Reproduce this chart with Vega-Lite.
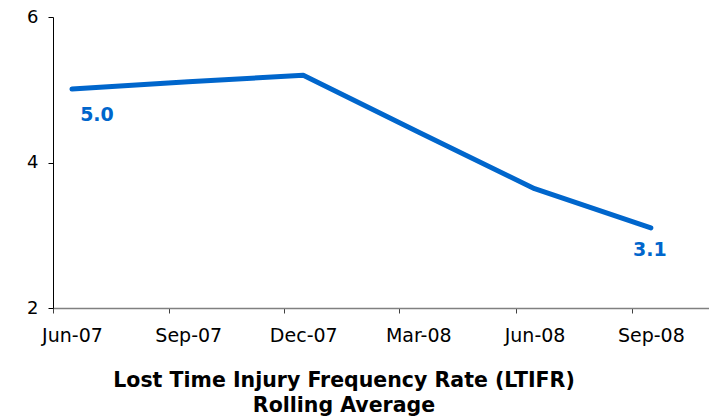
{
  "$schema": "https://vega.github.io/schema/vega-lite/v6.json",
  "autosize": "none",
  "width": 656,
  "height": 291,
  "padding": {"left": 53, "top": 17, "right": 0, "bottom": 109},
  "background": "white",
  "config": {
    "view": {"stroke": null},
    "font": "DejaVu Sans"
  },
  "title": {
    "text": ["Lost Time Injury Frequency Rate (LTIFR)", "Rolling Average"],
    "orient": "bottom",
    "anchor": "middle",
    "frame": "group",
    "dx": -37,
    "offset": 26,
    "font": "DejaVu Sans",
    "fontSize": 20.5,
    "fontWeight": "bold",
    "color": "#000000",
    "lineHeight": 25
  },
  "data": {
    "values": [
      {"date": "2007-06-01", "ltifr": 5.01, "label": "5.0"},
      {"date": "2007-09-01", "ltifr": 5.11, "label": null},
      {"date": "2007-12-01", "ltifr": 5.20, "label": null},
      {"date": "2008-03-01", "ltifr": 4.42, "label": null},
      {"date": "2008-06-01", "ltifr": 3.64, "label": null},
      {"date": "2008-09-01", "ltifr": 3.10, "label": "3.1"}
    ]
  },
  "encoding": {
    "x": {
      "field": "date",
      "type": "temporal",
      "scale": {
        "type": "utc",
        "domain": [
          {"year": 2007, "month": 5, "date": 17, "utc": true},
          {"year": 2008, "month": 10, "date": 17, "utc": true}
        ]
      },
      "axis": {
        "title": null,
        "values": [
          {"year": 2007, "month": 6, "date": 1, "utc": true},
          {"year": 2007, "month": 9, "date": 1, "utc": true},
          {"year": 2007, "month": 12, "date": 1, "utc": true},
          {"year": 2008, "month": 3, "date": 1, "utc": true},
          {"year": 2008, "month": 6, "date": 1, "utc": true},
          {"year": 2008, "month": 9, "date": 1, "utc": true}
        ],
        "format": "%b-%y",
        "grid": false,
        "domainColor": "#808080",
        "domainWidth": 1.5,
        "tickColor": "#404040",
        "tickSize": 5,
        "tickOffset": -19,
        "labelOffset": 19,
        "labelPadding": 13,
        "labelFont": "DejaVu Sans",
        "labelFontSize": 19,
        "labelColor": "#000000",
        "labelOverlap": false,
        "labelFlush": false,
        "labelBound": false
      }
    },
    "y": {
      "field": "ltifr",
      "type": "quantitative",
      "scale": {"domain": [2, 6], "nice": false, "zero": false},
      "axis": {
        "title": null,
        "values": [2, 4, 6],
        "grid": false,
        "domainColor": "#000000",
        "tickColor": "#000000",
        "tickSize": 5,
        "labelPadding": 10,
        "labelFont": "DejaVu Sans",
        "labelFontSize": 18,
        "labelColor": "#000000"
      }
    }
  },
  "layer": [
    {
      "mark": {"type": "line", "color": "#0066cc", "strokeWidth": 5, "strokeCap": "round", "strokeJoin": "round"}
    },
    {
      "transform": [{"filter": "datum.label == '5.0'"}],
      "mark": {"type": "text", "color": "#0066cc", "font": "DejaVu Sans", "fontSize": 19, "fontWeight": "bold", "dx": 25, "dy": 26, "baseline": "middle", "align": "center"},
      "encoding": {"text": {"field": "label", "type": "nominal"}}
    },
    {
      "transform": [{"filter": "datum.label == '3.1'"}],
      "mark": {"type": "text", "color": "#0066cc", "font": "DejaVu Sans", "fontSize": 19, "fontWeight": "bold", "dx": -1, "dy": 22, "baseline": "middle", "align": "center"},
      "encoding": {"text": {"field": "label", "type": "nominal"}}
    }
  ]
}
